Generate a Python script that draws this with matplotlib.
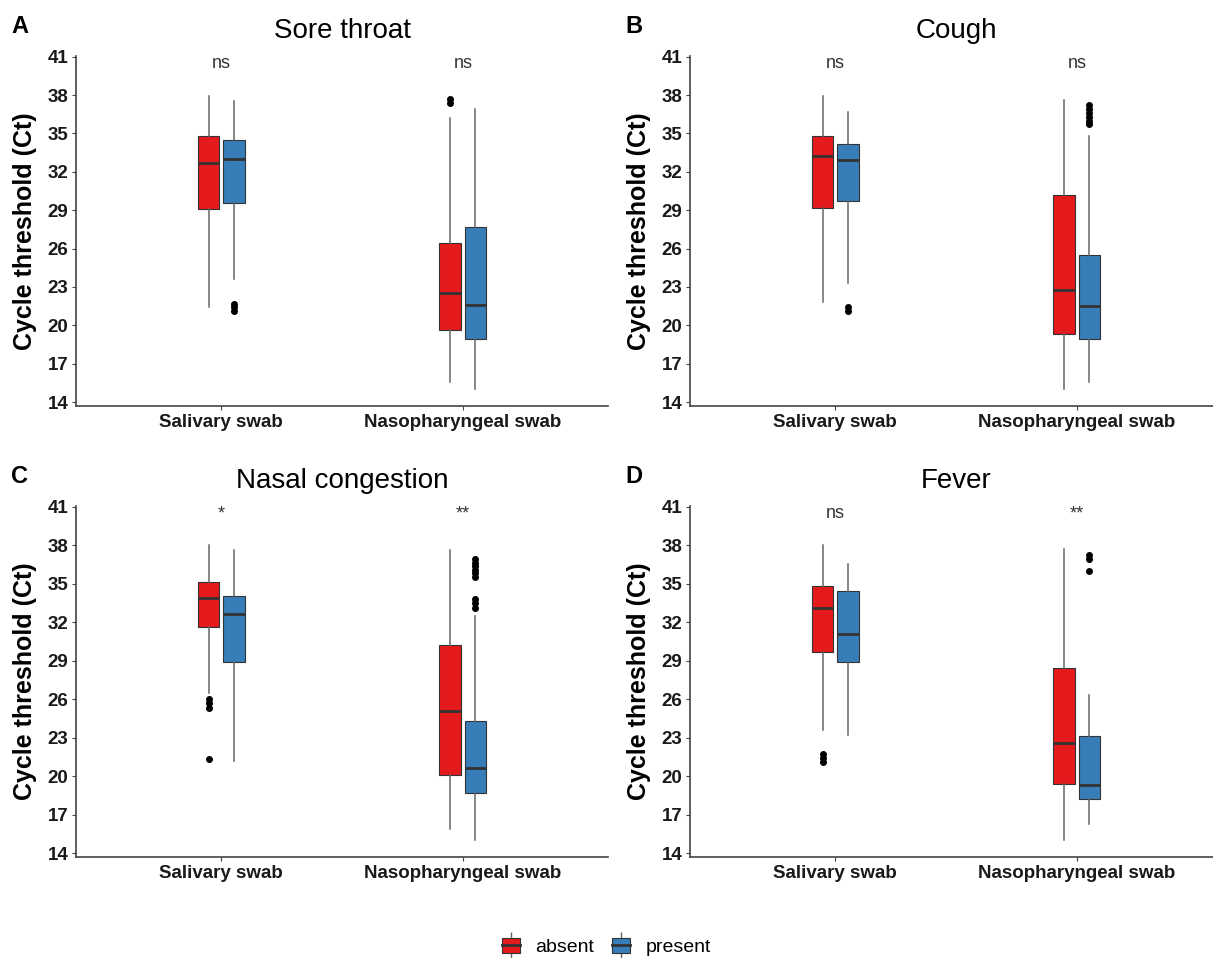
import matplotlib
matplotlib.use("Agg")
import matplotlib.pyplot as plt
from matplotlib.patches import Patch
from matplotlib.lines import Line2D
from matplotlib.legend_handler import HandlerTuple

plt.rcParams["font.family"] = ["Liberation Sans", "DejaVu Sans"]

symptoms = ["Sore throat", "Cough", "Nasal congestion", "Fever"]
panel_tags = ["A", "B", "C", "D"]
swabs = ["Salivary swab", "Nasopharyngeal swab"]
groups = ["absent", "present"]
group_colors = ["#E41A1C", "#377EB8"]
signif = [["ns", "ns"], ["ns", "ns"], ["*", "**"], ["ns", "**"]]
y_ticks = list(range(14, 42, 3))

# box statistics: [panel][swab][group]
whis_low = [
    [[21.4, 23.6], [15.6, 15.0]],
    [[21.8, 23.3], [15.0, 15.6]],
    [[26.5, 21.2], [15.9, 15.0]],
    [[23.6, 23.2], [15.0, 16.3]],
]
q1 = [
    [[29.1, 29.6], [19.6, 18.9]],
    [[29.2, 29.7], [19.3, 18.9]],
    [[31.6, 28.9], [20.1, 18.7]],
    [[29.7, 28.9], [19.4, 18.2]],
]
median = [
    [[32.7, 33.0], [22.5, 21.6]],
    [[33.2, 32.9], [22.8, 21.5]],
    [[33.9, 32.6], [25.1, 20.6]],
    [[33.1, 31.1], [22.6, 19.3]],
]
q3 = [
    [[34.8, 34.5], [26.4, 27.7]],
    [[34.8, 34.2], [30.2, 25.5]],
    [[35.1, 34.0], [30.2, 24.3]],
    [[34.8, 34.4], [28.4, 23.1]],
]
whis_high = [
    [[37.9, 37.5], [36.2, 36.9]],
    [[37.9, 36.7], [37.6, 34.8]],
    [[38.0, 37.6], [37.6, 32.5]],
    [[38.0, 36.5], [37.7, 26.3]],
]
outliers = [
    [[[], [21.7, 21.4, 21.1]], [[37.7, 37.4], []]],
    [[[], [21.4, 21.1]], [[], [37.2, 36.9, 36.6, 36.3, 36.0, 35.7]]],
    [[[26.0, 25.7, 25.3, 21.3], []],
     [[], [36.9, 36.6, 36.4, 36.1, 35.8, 35.5, 33.8, 33.5, 33.1]]],
    [[[21.7, 21.4, 21.1], []], [[], [37.2, 36.9, 36.0]]],
]

W, H = 1213, 958
fig = plt.figure(figsize=(W / 100, H / 100), dpi=100)

# axes boxes in pixels: left, top, right, bottom
panel_px = [(76, 56, 608, 406), (690, 56, 1222, 406),
            (76, 506, 608, 857), (690, 506, 1222, 857)]

box_w = 0.09
offset = 0.052

for p, (l, t, r, b) in enumerate(panel_px):
    ax = fig.add_axes([l / W, 1 - b / H, (r - l) / W, (b - t) / H])
    for s in range(2):
        for g in range(2):
            stats = [{
                "med": median[p][s][g], "q1": q1[p][s][g], "q3": q3[p][s][g],
                "whislo": whis_low[p][s][g], "whishi": whis_high[p][s][g],
                "fliers": outliers[p][s][g],
            }]
            pos = s + 1 + (offset if g else -offset)
            ax.bxp(stats, positions=[pos], widths=box_w, patch_artist=True,
                   showcaps=False,
                   boxprops=dict(facecolor=group_colors[g], edgecolor="#333333", linewidth=0.8),
                   medianprops=dict(color="#333333", linewidth=2.0),
                   whiskerprops=dict(color="#666666", linewidth=1.1),
                   flierprops=dict(marker="o", markerfacecolor="black", markeredgecolor="black",
                                   markersize=4.0))
        ax.text(s + 1, 39.8, signif[p][s], ha="center", va="bottom",
                fontsize=13, color="#333333")

    ax.set_xlim(0.4, 2.6)
    ax.set_ylim(13.7, 41.05)
    ax.set_xticks([1, 2])
    ax.set_xticklabels(swabs, fontsize=13.5, fontweight="bold", color="#1a1a1a")
    ax.set_yticks(y_ticks)
    ax.set_yticklabels([str(v) for v in y_ticks], fontsize=13.5, fontweight="bold", color="#1a1a1a")
    ax.tick_params(axis="both", length=3, width=0.8, color="#444444", pad=2.5)
    for side in ["top", "right"]:
        ax.spines[side].set_visible(False)
    for side in ["left", "bottom"]:
        ax.spines[side].set_color("#444444")
        ax.spines[side].set_linewidth(1.2)

    cx = (l + min(r, 1222)) / 2 / W
    fig.text(cx, 1 - (t - 18) / H, symptoms[p], ha="center", va="baseline", fontsize=20)
    fig.text((l - 65) / W, 1 - (t - 23) / H, panel_tags[p], ha="left", va="baseline",
             fontsize=17, fontweight="bold")
    fig.text((l - 51) / W, 1 - ((t + b) / 2) / H, "Cycle threshold (Ct)", rotation=90,
             ha="center", va="center", fontsize=18, fontweight="bold")

handles = [
    (Line2D([], [], marker="|", markersize=19, markeredgewidth=1.0,
            color="#666666", linestyle="none"),
     Patch(facecolor=c, edgecolor="#333333", linewidth=0.8),
     Line2D([], [], color="#333333", linewidth=2.0))
    for c in group_colors
]
fig.legend(handles, groups, handler_map={tuple: HandlerTuple(ndivide=1, pad=0)},
           loc="center", bbox_to_anchor=(0.5, 1 - 947 / H), ncol=2, frameon=False,
           fontsize=14, handlelength=0.95, handleheight=0.8, handletextpad=0.8,
           columnspacing=0.9, numpoints=1)

fig.savefig("out.png", dpi=100)
